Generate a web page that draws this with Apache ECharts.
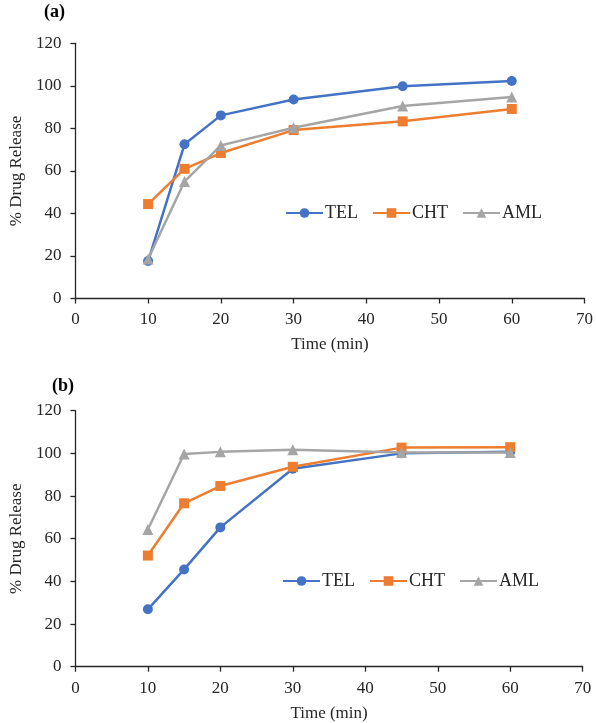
<!DOCTYPE html>
<html>
<head>
<meta charset="utf-8">
<script src="https://cdn.jsdelivr.net/npm/echarts@6/dist/echarts.min.js"></script>
<style>html,body{margin:0;padding:0;background:#fff}#c{width:596px;height:723px}</style>
</head>
<body>
<div id="c"></div>
<script>
const times = [10, 15, 20, 30, 45, 60];
const seriesNames = ['TEL', 'CHT', 'AML'];
const telA = [17.6, 72.5, 86.1, 93.6, 99.8, 102.3];
const chtA = [44.4, 61.0, 68.4, 79.2, 83.3, 89.1];
const amlA = [18.6, 55.0, 72.0, 80.3, 90.5, 94.8];
const telB = [26.9, 45.6, 65.3, 92.8, 100.0, 100.8];
const chtB = [52.1, 76.6, 84.7, 93.7, 102.7, 102.9];
const amlB = [64.3, 99.7, 100.7, 101.7, 100.4, 100.4];
const xTicks = [0, 10, 20, 30, 40, 50, 60, 70];
const yTicks = [0, 20, 40, 60, 80, 100, 120];
const panelLabels = ['(a)', '(b)'];

const colors = ['#4472C4', '#ED7D31', '#A5A5A5'];
const symbols = ['circle', 'rect', 'triangle'];
const font = '"Liberation Serif", "Times New Roman", serif';

function pairs(vals) { return times.map((t, i) => [t, vals[i]]); }

const axisLine = { show: true, lineStyle: { color: '#262626', width: 1.3 } };
const axisTick = { show: true, length: 5, inside: false, lineStyle: { color: '#262626', width: 1.3 } };

function xAx(gi) {
  return {
    gridIndex: gi, type: 'value', min: xTicks[0], max: xTicks[xTicks.length - 1], interval: 10,
    axisLine, axisTick, splitLine: { show: false },
    axisLabel: { color: '#262626', fontFamily: font, fontSize: 17, margin: 13 },
    name: 'Time (min)', nameLocation: 'middle', nameGap: 38,
    nameTextStyle: { color: '#262626', fontFamily: font, fontSize: 17 }
  };
}
function yAx(gi) {
  return {
    gridIndex: gi, type: 'value', min: yTicks[0], max: yTicks[yTicks.length - 1], interval: 20,
    axisLine, axisTick, splitLine: { show: false },
    axisLabel: { color: '#262626', fontFamily: font, fontSize: 17, margin: 14 },
    name: '% Drug Release', nameLocation: 'middle', nameGap: 50, nameRotate: 90,
    nameTextStyle: { color: '#262626', fontFamily: font, fontSize: 17 }
  };
}
function mkSeries(gi, arrs) {
  return arrs.map((v, i) => ({
    name: seriesNames[i], type: 'line', xAxisIndex: gi, yAxisIndex: gi,
    data: pairs(v), symbol: symbols[i], symbolSize: i === 2 ? 11 : 10,
    itemStyle: { color: colors[i] }, lineStyle: { color: colors[i], width: 2.5 },
    emphasis: { disabled: true }, z: 2 + i
  }));
}
function legend(left, top) {
  return {
    data: seriesNames, left, top, padding: 0, itemWidth: 37, itemHeight: 12, itemGap: 14,
    textStyle: { fontFamily: font, fontSize: 18, color: '#262626', padding: [0, 0, 0, -3] },
    selectedMode: false
  };
}

const chart = echarts.init(document.getElementById('c'));
chart.setOption({
  animation: false,
  backgroundColor: '#fff',
  title: [
    { text: panelLabels[0], left: 44, top: 3, padding: 0, textStyle: { fontFamily: font, fontSize: 18, fontWeight: 'bold', color: '#000' } },
    { text: panelLabels[1], left: 52, top: 377, padding: 0, textStyle: { fontFamily: font, fontSize: 18, fontWeight: 'bold', color: '#000' } }
  ],
  grid: [
    { left: 64.3, top: 43.3, width: 523.4, height: 255.2 },
    { left: 64.3, top: 410.7, width: 518.4, height: 256 }
  ],
  legend: [legend(285, 204), legend(282, 572)],
  xAxis: [xAx(0), xAx(1)],
  yAxis: [yAx(0), yAx(1)],
  series: [...mkSeries(0, [telA, chtA, amlA]), ...mkSeries(1, [telB, chtB, amlB])]
});
</script>
</body>
</html>
